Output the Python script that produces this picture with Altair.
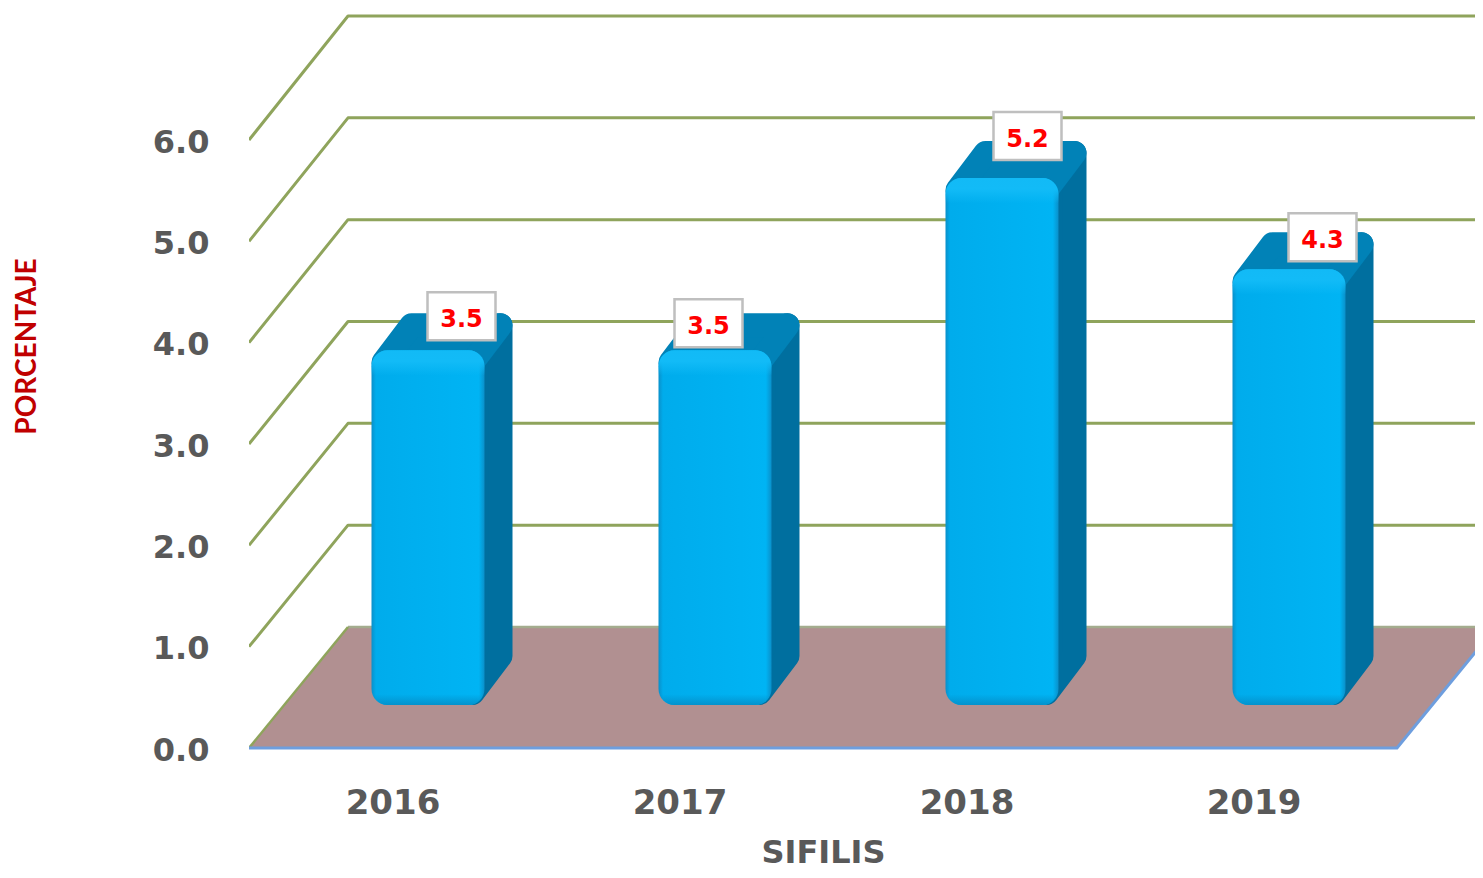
import altair as alt
import pandas as pd

years = [2016, 2017, 2018, 2019]
values = [3.5, 3.5, 5.2, 4.3]
levels = [0, 1, 2, 3, 4, 5, 6]

# scale of the drawing: one year step and one percentage point, in pixels
PX = 287.0
PY = 101.33
W, H = 1226, 740
x_dom = [2015.5, 2015.5 + W / PX]
y_dom = [0, H / PY]
DX = 99 / PX        # depth of the chart's floor
DY = 121 / PY
BASE = 43 / PY      # bars stand in the middle of the floor
L, R = -21 / PX, 92 / PX
BDX, BDY = 28 / PX, 37 / PY   # depth of a bar
RAD = 12
rx, ry = RAD / PX, RAD / PY

# label box shifts, from the bar's top
lab_dx = [69, 29, 61, 69]
lab_dy = [34, 27, 42, 32]


def X(f="x", **k):
    return alt.X(f"{f}:Q", scale=alt.Scale(domain=x_dom, nice=False, zero=False), **k)


def Y(f="y", **k):
    return alt.Y(f"{f}:Q", scale=alt.Scale(domain=y_dom, nice=False, zero=False), **k)


def grad(stops, vertical=False):
    return alt.LinearGradient(
        gradient="linear",
        x1=0, y1=0, x2=0 if vertical else 1, y2=1 if vertical else 0,
        stops=[alt.GradientStop(color=c, offset=o) for o, c in stops],
    )


# floor
x0 = years[0] - 0.5
x1 = years[-1] + 0.5
floor = pd.DataFrame({"x": [x0, x0 + DX], "x2": [x1, x1 + DX], "y": [0, DY]})
floor_l = alt.Chart(floor).mark_area(orient="horizontal", fill="#B19091", clip=True).encode(
    x=X(axis=alt.Axis(
        values=years, format="d", title="SIFILIS", grid=False, domain=False, ticks=False,
        labelFont="DejaVu Sans", labelFontWeight="bold", labelFontSize=34, labelColor="#595959",
        labelPadding=38, titleFont="DejaVu Sans", titleFontWeight="bold", titleFontSize=32,
        titleColor="#595959", titleX=574, titleY=104, titleBaseline="middle", titleAlign="center")),
    x2="x2:Q",
    y=Y(axis=alt.Axis(
        values=levels, format=".1f", title="PORCENTAJE", grid=False, domain=False, ticks=False,
        labelFont="DejaVu Sans", labelFontWeight="bold", labelFontSize=32, labelColor="#595959",
        labelPadding=40, labelOffset=2, titleFont="Lato", titleFontWeight="bold", titleFontSize=28,
        titleColor="#C00000", titleX=-222, titleY=338, titleAngle=-90, titleBaseline="middle",
        titleAlign="center")),
)

# wall and side grid lines
grid_rows = []
for lv in levels[1:]:
    back = lv + (121 + 0.5 * lv) / PY
    grid_rows += [
        {"lv": lv, "o": 0, "x": x0, "y": lv},
        {"lv": lv, "o": 1, "x": x0 + DX, "y": back},
        {"lv": lv, "o": 2, "x": x_dom[1], "y": back},
    ]
grid_l = alt.Chart(pd.DataFrame(grid_rows)).mark_line(
    color="#8FA45C", strokeWidth=3, clip=True, strokeJoin="round"
).encode(x=X(), y=Y(), detail="lv:N", order="o:Q")

# the floor's own edges
floor_back = pd.DataFrame({"o": [0, 1], "x": [x0 + DX, x_dom[1]], "y": [DY, DY]})
floor_back_l = alt.Chart(floor_back).mark_line(color="#A4AC8E", strokeWidth=2.5, clip=True).encode(
    x=X(), y=Y(), order="o:Q"
)
floor_left = pd.DataFrame({"o": [0, 1], "x": [x0, x0 + DX], "y": [0, DY]})
floor_left_l = alt.Chart(floor_left).mark_line(color="#8FA45C", strokeWidth=2.5, clip=True).encode(
    x=X(), y=Y(), order="o:Q"
)
edge = pd.DataFrame({"o": [0, 1, 2], "x": [x0, x1, x1 + DX], "y": [0, 0, DY]})
edge_l = alt.Chart(edge).mark_line(color="#6E9EDE", strokeWidth=3, clip=False).encode(
    x=X(), y=Y(), order="o:Q"
)

# bar faces
side_rows, top_rows, front_rows, box_rows = [], [], [], []
for yr, v, ldx, ldy in zip(years, values, lab_dx, lab_dy):
    bottom, top = BASE, BASE + v
    side_rows += [
        {"yr": yr, "x": yr + R - rx, "y": bottom + ry, "y2": top - ry},
        {"yr": yr, "x": yr + R + BDX - rx, "y": bottom + BDY + ry, "y2": top + BDY - ry},
    ]
    top_rows += [
        {"yr": yr, "y": top - ry, "x": yr + L + rx, "x2": yr + R - rx},
        {"yr": yr, "y": top + BDY - ry, "x": yr + L + BDX + rx, "x2": yr + R + BDX - rx},
    ]
    front_rows.append({"yr": yr, "x": yr + L, "x2": yr + R, "y": bottom, "y2": top})
    cx, cy = yr + ldx / PX, top + ldy / PY
    box_rows.append({"v": f"{v:.1f}", "cx": cx, "cy": cy - 4 / PY,
                     "x": cx - 34 / PX, "x2": cx + 34 / PX,
                     "y": cy - 24 / PY, "y2": cy + 24 / PY})

side_l = alt.Chart(pd.DataFrame(side_rows)).mark_area(
    fill="#006F9F", stroke="#006F9F", strokeWidth=2 * RAD, strokeJoin="round", clip=True
).encode(x=X(), y=Y(), y2="y2:Q", detail="yr:N")

top_l = alt.Chart(pd.DataFrame(top_rows)).mark_area(
    orient="horizontal", fill="#0182B7", stroke="#0182B7", strokeWidth=2 * RAD,
    strokeJoin="round", clip=True
).encode(x=X(), x2="x2:Q", y=Y(), detail="yr:N")

across = grad([(0, "#0A90CA"), (0.04, "#00ACEC"), (0.5, "#00B0F0"), (0.95, "#00B4F4"), (1, "#0A90CA")])
front_l = alt.Chart(pd.DataFrame(front_rows)).mark_rect(
    fill=across, cornerRadius=16, clip=True
).encode(x=X(), x2="x2:Q", y=Y(), y2="y2:Q")

# soft lighter rim at the top and darker rim at the bottom of the front face
rim_top = alt.Chart(pd.DataFrame(front_rows).assign(y=lambda d: d.y2 - 36 / PY)).mark_rect(
    fill=grad([(0, "#12BAF6"), (0.3, "#12BBF7"), (0.7, "#12BBF700"), (1, "#12BBF700")], vertical=True),
    cornerRadiusTopLeft=16, cornerRadiusTopRight=16, clip=True,
).encode(x=X(), x2="x2:Q", y=Y(), y2="y2:Q")

rim_low = alt.Chart(pd.DataFrame(front_rows).assign(y2=lambda d: d.y + 36 / PY)).mark_rect(
    fill=grad([(0, "#0392CC00"), (0.7, "#0392CC00"), (1, "#0392CC")], vertical=True),
    cornerRadiusBottomLeft=16, cornerRadiusBottomRight=16, clip=True,
).encode(x=X(), x2="x2:Q", y=Y(), y2="y2:Q")

# value labels
boxes = pd.DataFrame(box_rows)
box_l = alt.Chart(boxes).mark_rect(fill="white", stroke="#BFBFBF", strokeWidth=2.5, clip=True).encode(
    x=X(), x2="x2:Q", y=Y(), y2="y2:Q"
)
txt_l = alt.Chart(boxes).mark_text(
    font="DejaVu Sans", fontWeight="bold", fontSize=24, color="#FF0000", baseline="middle", align="center"
).encode(x=X("cx"), y=Y("cy"), text="v:N")

chart = alt.layer(
    floor_l, floor_back_l, floor_left_l, grid_l, edge_l, side_l, top_l, front_l, rim_top, rim_low, box_l, txt_l
).properties(
    width=W, height=H,
    padding={"left": 241, "top": 0, "right": 0, "bottom": 122},
    autosize=alt.AutoSizeParams(type="none"),
).configure_view(stroke=None)

chart.save("out.html", embed_options={"renderer": "svg", "actions": False})
